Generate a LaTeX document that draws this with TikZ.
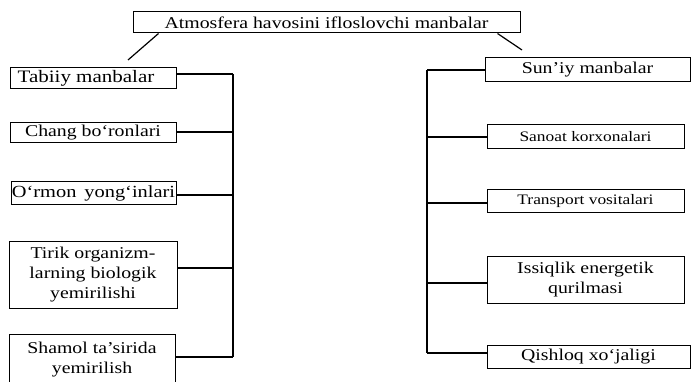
\documentclass[tikz,border=0pt]{standalone}
\usepackage{fontspec}
\setmainfont{Liberation Serif}[FakeStretch=1.2]
\begin{document}
\begin{tikzpicture}[x=1pt,y=-1pt,
  box/.style={draw,line width=1pt,inner sep=0pt,align=center,
    font=\fontsize{16.5}{20}\selectfont},
  smallbox/.style={box,font=\fontsize{14.5}{17}\selectfont},
  link/.style={line width=1.2pt}]
\clip (0,0) rectangle (691,382);
\fill[white] (0,0) rectangle (691,382);
% title
\node[box,minimum width=387pt,minimum height=21pt] (title) at (326.5,22.5) {Atmosfera havosini ifloslovchi manbalar};
% left column
\node[box,minimum width=166pt,minimum height=21pt,font=\fontsize{17.5}{20}\selectfont] (tabiiy) at (93,78.5) {Tabiiy manbalar\hspace*{14pt}};
\node[box,minimum width=166pt,minimum height=20pt] (chang) at (93,133) {Chang bo‘ronlari};
\node[box,minimum width=165pt,minimum height=23pt,font=\fontsize{17}{20}\selectfont] (ormon) at (93.5,193.5) {O‘rmon\, yong‘inlari};
\node[box,minimum width=168pt,minimum height=66pt] (tirik) at (93,275) {Tirik organizm-\\larning biologik\\yemirilishi};
\node[box,minimum width=166pt,minimum height=52pt] (shamol) at (92,360) {Shamol ta’sirida\\yemirilish};
% right column
\node[box,minimum width=205pt,minimum height=24pt] (suniy) at (587.5,70) {Sun’iy manbalar};
\node[smallbox,minimum width=197pt,minimum height=24pt] (sanoat) at (585.5,137) {Sanoat korxonalari};
\node[smallbox,minimum width=197pt,minimum height=23pt] (transport) at (585.5,201.5) {Transport vositalari};
\node[box,minimum width=197pt,minimum height=46pt] (issiqlik) at (585.5,280) {Issiqlik energetik\\qurilmasi};
\node[box,minimum width=203pt,minimum height=23pt] (qishloq) at (588.5,356.5) {Qishloq xo‘jaligi};
% trunk junctions
\coordinate (l1) at (233,74);
\coordinate (l2) at (233,132);
\coordinate (l3) at (233,195);
\coordinate (l4) at (233,268);
\coordinate (l5) at (233,357);
\coordinate (r1) at (427,70);
\coordinate (r2) at (427,137);
\coordinate (r3) at (427,203);
\coordinate (r4) at (427,283);
\coordinate (r5) at (427,353);
% diagonal ends
\coordinate (d1) at (128,60);
\coordinate (d2) at (522,50);
\draw[link] ([xshift=26pt]title.south west) -- (d1);
\draw[link] ([xshift=-23pt]title.south east) -- (d2);
% left connectors
\draw[link] (l1) -- (l5);
\draw[link] (l1 -| tabiiy.east) -- (l1);
\draw[link] (l2 -| chang.east) -- (l2);
\draw[link] (l3 -| ormon.east) -- (l3);
\draw[link] (l4 -| tirik.east) -- (l4);
\draw[link] (l5 -| shamol.east) -- (l5);
% right connectors
\draw[link] (r1) -- (r5);
\draw[link] (r1) -- (r1 -| suniy.west);
\draw[link] (r2) -- (r2 -| sanoat.west);
\draw[link] (r3) -- (r3 -| transport.west);
\draw[link] (r4) -- (r4 -| issiqlik.west);
\draw[link] (r5) -- (r5 -| qishloq.west);
\end{tikzpicture}
\end{document}
